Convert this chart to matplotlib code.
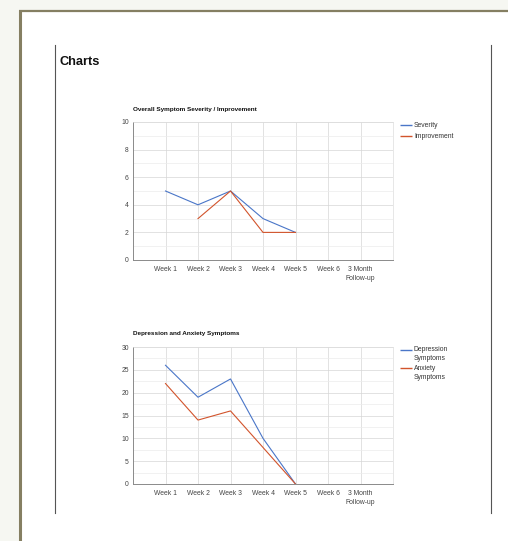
import numpy as np
import matplotlib
matplotlib.use("Agg")
import matplotlib.pyplot as plt
from matplotlib.lines import Line2D
from matplotlib.patches import Rectangle
from matplotlib.ticker import MultipleLocator

plt.rcParams['font.family'] = ['Liberation Sans', 'DejaVu Sans']

# data
categories = ["Week 1", "Week 2", "Week 3", "Week 4", "Week 5", "Week 6", "3 Month\nFollow-up"]
severity = [5, 4, 5, 3, 2, np.nan, np.nan]
improvement = [np.nan, 3, 5, 2, 2, np.nan, np.nan]
depression = [26, 19, 23, 10, 0, np.nan, np.nan]
anxiety = [22, 14, 16, 8, 0, np.nan, np.nan]

W, H = 508, 541
BLUE = "#4a76c8"
RED = "#d2542c"
FS = 4.9

fig = plt.figure(figsize=(W / 100, H / 100), dpi=100)
fig.patch.set_facecolor("#f6f7f2")


def fx(px):
    return px / W


def fy(py):
    return 1 - py / H


# page area + olive frame
fig.add_artist(Rectangle((fx(21), 0), 1 - fx(21), fy(11.5), transform=fig.transFigure,
                         facecolor="white", edgecolor="none", zorder=0))
fig.add_artist(Line2D([fx(19), 1], [fy(10.5), fy(10.5)], transform=fig.transFigure,
                      color="#857f62", lw=1.6, solid_capstyle="butt"))
fig.add_artist(Line2D([fx(20), fx(20)], [fy(10), 0], transform=fig.transFigure,
                      color="#857f62", lw=2.2, solid_capstyle="butt"))
# page margins
for x in (55, 491):
    fig.add_artist(Line2D([fx(x), fx(x)], [fy(45), fy(513)], transform=fig.transFigure,
                          color="#555555", lw=0.8))

fig.text(fx(60), fy(62), "Charts", fontsize=9.2, fontweight="bold", va="center", ha="left",
         color="#111111")


def make_chart(top, bottom, title, title_y, series, ymax, ystep, leg_rows):
    ax = fig.add_axes([fx(133), fy(bottom), fx(393) - fx(133), fy(top) - fy(bottom)])
    x = np.arange(len(categories))
    for label, vals, col in series:
        ax.plot(x, vals, color=col, lw=0.8, label=label)
    ax.set_xlim(-1, len(categories))
    ax.set_ylim(0, ymax)
    ax.set_xticks(x)
    ax.set_xticklabels(categories, fontsize=FS, color="#444444", linespacing=1.45)
    ax.yaxis.set_major_locator(MultipleLocator(ystep))
    ax.yaxis.set_minor_locator(MultipleLocator(ystep / 2))
    ax.tick_params(axis="both", which="both", length=0, labelsize=FS, labelcolor="#444444", pad=3)
    ax.tick_params(axis="x", pad=4)
    ax.grid(True, which="major", color="#d6d6d6", lw=0.5)
    ax.grid(True, which="minor", axis="y", color="#ececec", lw=0.5)
    ax.set_axisbelow(True)
    for s in ("top", "right"):
        ax.spines[s].set_color("#dddddd")
        ax.spines[s].set_linewidth(0.5)
    for s in ("left", "bottom"):
        ax.spines[s].set_color("#8a8a8a")
        ax.spines[s].set_linewidth(0.7)
    fig.text(fx(133), fy(title_y), title, fontsize=4.55, fontweight="bold", va="center",
             ha="left", color="#111111")
    # legend drawn by hand so the swatch sits on the first text line
    for (label, vals, col), ly in zip(series, leg_rows):
        fig.add_artist(Line2D([fx(400), fx(412)], [fy(ly), fy(ly)], transform=fig.transFigure,
                              color=col, lw=1.0, solid_capstyle="butt"))
        fig.text(fx(414), fy(ly - 3.2), label, fontsize=FS, va="top", ha="left",
                 color="#333333", linespacing=1.35)
    return ax


make_chart(122, 260, "Overall Symptom Severity / Improvement", 109,
           [("Severity", severity, BLUE), ("Improvement", improvement, RED)], 10, 2,
           [125, 136])
make_chart(347, 484, "Depression and Anxiety Symptoms", 333,
           [("Depression\nSymptoms", depression, BLUE), ("Anxiety\nSymptoms", anxiety, RED)],
           30, 5, [349.5, 368])

fig.savefig("out.png", dpi=100, facecolor=fig.get_facecolor())
